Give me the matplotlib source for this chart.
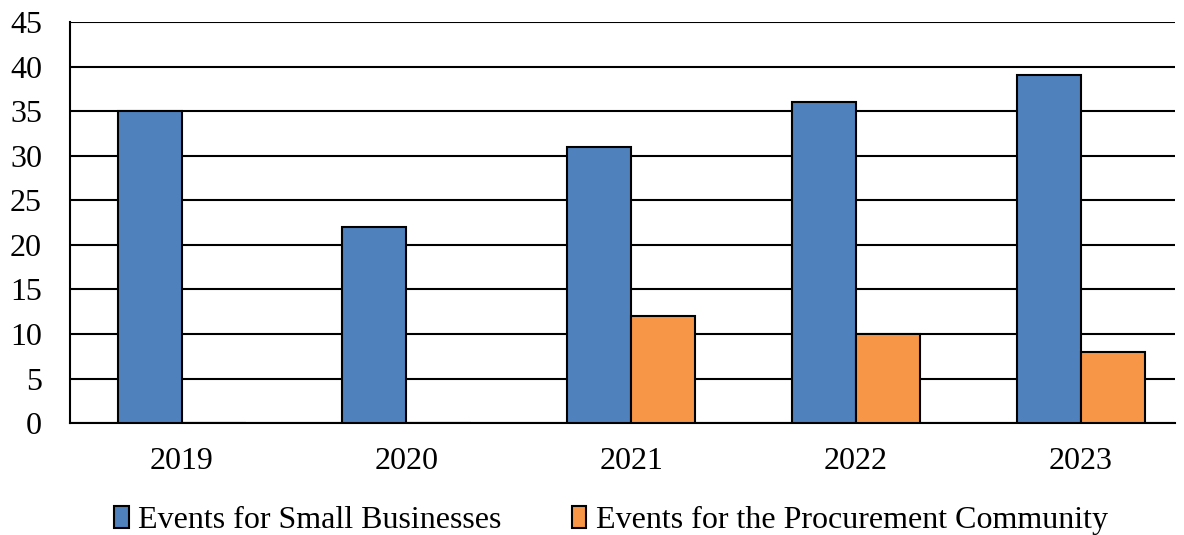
import numpy as np
import matplotlib
matplotlib.use('Agg')
import matplotlib.pyplot as plt

years = ['2019', '2020', '2021', '2022', '2023']
small_biz = [35, 22, 31, 36, 39]
procurement = [0, 0, 12, 10, 8]
yticks = [0, 5, 10, 15, 20, 25, 30, 35, 40, 45]

plt.rcParams['font.family'] = ['Liberation Serif', 'DejaVu Serif']

fig = plt.figure(figsize=(11.84, 5.35), dpi=100)
ax = fig.add_axes([0.059, 0.209, 0.933, 0.75])

x = np.arange(len(years))
w = 0.285
ax.bar(x - w / 2, small_biz, w, color='#4f81bd', edgecolor='black', linewidth=1.5,
       label='Events for Small Businesses', zorder=3)
ax.bar(x + w / 2, procurement, w, color='#f79646', edgecolor='black', linewidth=1.5,
       label='Events for the Procurement Community', zorder=3)

ax.set_xlim(-0.498, 4.418)
ax.set_ylim(0, 45)
ax.set_yticks(yticks)
ax.set_xticks(x)
ax.set_xticklabels(years)
ax.yaxis.grid(True, color='black', linewidth=1.5, zorder=0)
ax.tick_params(axis='both', labelsize=23, length=0)
ax.tick_params(axis='x', pad=17)
ax.tick_params(axis='y', pad=20)
for s in ['top', 'right']:
    ax.spines[s].set_visible(False)
ax.spines['left'].set_linewidth(1.5)
ax.spines['bottom'].set_linewidth(1.5)

fig.legend(*ax.get_legend_handles_labels(), loc='center', bbox_to_anchor=(0.516, 0.027),
           ncol=2, frameon=False, fontsize=23, handlelength=0.45, handleheight=0.7,
           handletextpad=0.3, columnspacing=2.2, borderpad=0)

plt.savefig('out.png', dpi=100)
